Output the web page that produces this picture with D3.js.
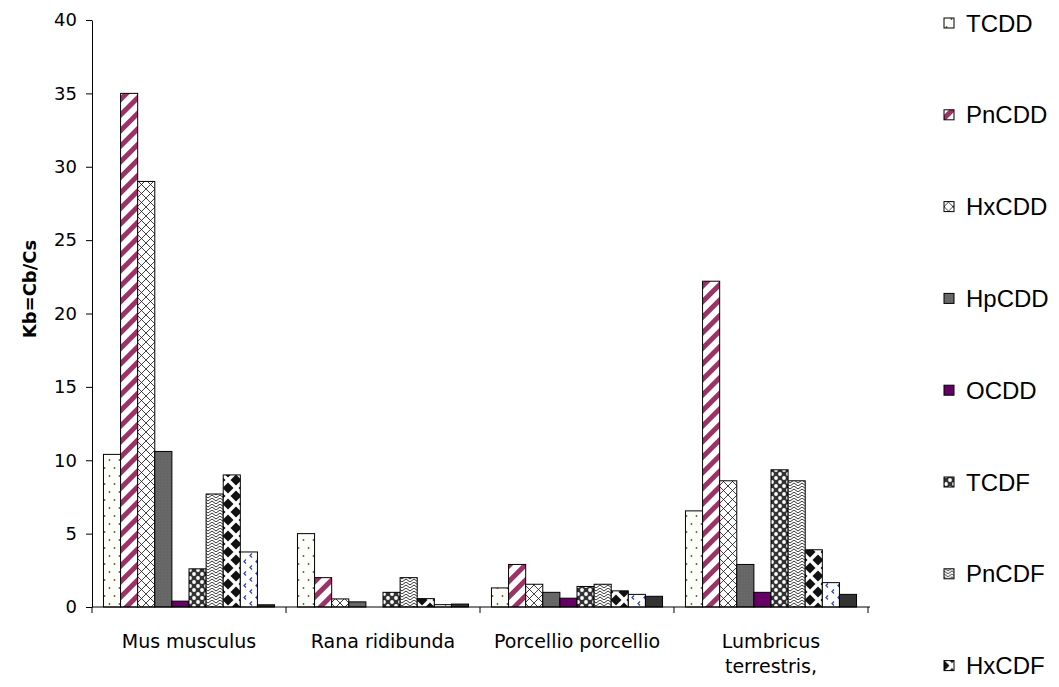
<!DOCTYPE html>
<html>
<head>
<meta charset="utf-8">
<script src="https://cdn.jsdelivr.net/npm/d3@7"></script>
<style>
  html, body { margin: 0; padding: 0; background: #fff; }
  svg { display: block; }
</style>
</head>
<body>
<svg id="chart" width="1059" height="687"></svg>
<script>
// ---------- DATA ----------
const categories = ["Mus musculus", "Rana ridibunda", "Porcellio porcellio", "Lumbricus terrestris,"];
const seriesNames = ["TCDD", "PnCDD", "HxCDD", "HpCDD", "OCDD", "TCDF", "PnCDF", "HxCDF", "HpCDF", "OCDF"];
const musMusculus      = [10.4, 35.0, 29.0, 10.6, 0.4, 2.6, 7.7, 9.0, 3.75, 0.15];
const ranaRidibunda    = [5.0, 2.0, 0.55, 0.35, 0.0, 1.0, 2.0, 0.57, 0.16, 0.2];
const porcellio        = [1.3, 2.9, 1.55, 1.0, 0.6, 1.4, 1.55, 1.1, 0.86, 0.73];
const lumbricus        = [6.55, 22.2, 8.6, 2.9, 1.0, 9.35, 8.6, 3.9, 1.66, 0.86];
const yTicks = [0, 5, 10, 15, 20, 25, 30, 35, 40];
const yTitle = "Kb=Cb/Cs";

const valuesByCategory = [musMusculus, ranaRidibunda, porcellio, lumbricus];

// ---------- SETUP ----------
const W = 1059, H = 687;
const svg = d3.select("#chart");
const defs = svg.append("defs");

function pat(id, w, h, bg, extra) {
  const p = defs.append("pattern").attr("id", id)
    .attr("patternUnits", "userSpaceOnUse").attr("width", w).attr("height", h);
  p.append("rect").attr("width", w).attr("height", h).attr("fill", bg);
  if (extra) extra(p);
  return p;
}
// TCDD: white with sparse olive dots
pat("p0", 10, 16, "#fcfcf8", p => {
  p.append("circle").attr("cx", 2.5).attr("cy", 4).attr("r", 0.9).attr("fill", "#5e5e30");
  p.append("circle").attr("cx", 7.5).attr("cy", 12).attr("r", 0.9).attr("fill", "#5e5e30");
});
// PnCDD: plum diagonal stripes
pat("p1", 11, 11, "#ffffff", p => {
  p.append("rect").attr("x", 0).attr("y", 0).attr("width", 5).attr("height", 11).attr("fill", "#9c3366");
}).attr("patternTransform", "rotate(45)");
// HxCDD: crosshatch
pat("p2", 9, 9, "#ffffff", p => {
  p.append("path").attr("d", "M0,0L9,9M9,0L0,9").attr("stroke", "#111").attr("stroke-width", 0.8);
});
// HpCDD: gray
pat("p3", 3, 3, "#666666", p => {
  p.append("rect").attr("x", 1).attr("y", 1).attr("width", 1).attr("height", 1).attr("fill", "#6e6e6e");
});
// OCDD: purple
pat("p4", 4, 4, "#660066");
// TCDF: dark with white circles
pat("p5", 8, 8, "#333333", p => {
  p.append("circle").attr("cx", 2).attr("cy", 2).attr("r", 1.9).attr("fill", "#fff");
  p.append("circle").attr("cx", 6).attr("cy", 6).attr("r", 1.9).attr("fill", "#fff");
});
// PnCDF: zigzag
pat("p6", 8, 6, "#ffffff", p => {
  p.append("path").attr("d", "M0,0L4,3L8,0M0,3L4,6L8,3").attr("stroke", "#333").attr("stroke-width", 1).attr("fill", "none");
});
// HxCDF: black diamonds lattice
pat("p7", 16, 16, "#ffffff", p => {
  const a = 5.5;
  [[0,0],[16,0],[0,16],[16,16],[8,8]].forEach(([cx, cy]) => {
    p.append("path").attr("d", `M${cx - a},${cy}L${cx},${cy - a}L${cx + a},${cy}L${cx},${cy + a}Z`).attr("fill", "#111");
  });
});
// HpCDF: white with small blue marks
pat("p8", 12, 12, "#ffffff", p => {
  p.append("path").attr("d", "M4,1.5L2,3.5L4,5.5").attr("stroke", "#3344bb").attr("stroke-width", 1.3).attr("fill", "none");
  p.append("path").attr("d", "M10,7.5L8,9.5L10,11.5").attr("stroke", "#3344bb").attr("stroke-width", 1.3).attr("fill", "none");
});
// OCDF: dark
pat("p9", 4, 4, "#333333");

const fills = seriesNames.map((s, i) => `url(#p${i})`);

const x0 = d3.scaleBand().domain(categories).range([92, 868]).padding(0);
const x1 = d3.scaleBand().domain(seriesNames).range([0, x0.bandwidth()]).paddingInner(0).paddingOuter(0.67);
const y = d3.scaleLinear().domain([0, 40]).range([607, 20]);

// ---------- BARS ----------
const groups = svg.append("g").selectAll("g").data(categories).join("g")
  .attr("transform", d => `translate(${x0(d)},0)`);
groups.selectAll("rect")
  .data((c, ci) => seriesNames.map((s, si) => ({ s, si, v: valuesByCategory[ci][si] })))
  .join("rect")
  .filter(d => d.v > 0)
  .attr("x", d => x1(d.s))
  .attr("y", d => y(d.v))
  .attr("width", x1.bandwidth())
  .attr("height", d => y(0) - y(d.v))
  .attr("fill", d => fills[d.si])
  .attr("stroke", "#000")
  .attr("stroke-width", 1);

// ---------- AXES ----------
const yAxis = svg.append("g").attr("transform", "translate(92,0)")
  .call(d3.axisLeft(y).tickValues(yTicks).tickSize(6).tickSizeOuter(0).tickPadding(9));
yAxis.select(".domain").attr("stroke", "#000");
yAxis.selectAll(".tick line").attr("stroke", "#000");
yAxis.selectAll("text").attr("font-family", "DejaVu Sans, Verdana, sans-serif")
  .attr("font-size", 18).attr("fill", "#000");

// x axis line and boundary ticks
const xAxis = svg.append("g").attr("transform", `translate(0,${y(0)})`)
  .call(d3.axisBottom(x0).tickSize(0));
xAxis.select(".domain").attr("d", `M${x0.range()[0]},0H${x0.range()[1] + 2}`).attr("stroke", "#000");
xAxis.selectAll(".tick text").remove();
const bounds = categories.map(c => x0(c)).concat([x0.range()[1]]);
xAxis.selectAll("line.bound").data(bounds).join("line").attr("class", "bound")
  .attr("x1", d => d).attr("x2", d => d).attr("y1", 0).attr("y2", 6).attr("stroke", "#000");

// category labels (wrapped)
const catLabel = svg.append("g");
categories.forEach(c => {
  const lines = c === "Lumbricus terrestris," ? ["Lumbricus", "terrestris,"] : [c];
  const cx = x0(c) + x0.bandwidth() / 2;
  const t = catLabel.append("text")
    .attr("x", cx)
    .attr("y", 648)
    .attr("text-anchor", "middle")
    .attr("font-family", "DejaVu Sans, Verdana, sans-serif")
    .attr("font-size", 19).attr("fill", "#000");
  lines.forEach((l, i) => t.append("tspan").attr("x", cx).attr("dy", i === 0 ? 0 : 25).text(l));
});

// y title
svg.append("text")
  .attr("transform", "translate(36,289) rotate(-90)")
  .attr("text-anchor", "middle")
  .attr("font-family", "DejaVu Sans, Verdana, sans-serif")
  .attr("font-weight", "bold")
  .attr("font-size", 18)
  .text(yTitle);

// ---------- LEGEND (only entries that fit in the frame, as in the reference) ----------
const legendStep = 91.8, legendTop = 23;
const legendItems = seriesNames.map((s, i) => ({ s, i })).filter(d => legendTop + d.i * legendStep + 12 < H);
const legend = svg.append("g").selectAll("g").data(legendItems).join("g")
  .attr("transform", d => `translate(944,${legendTop + d.i * legendStep})`);
legend.append("rect").attr("x", 0).attr("y", -5).attr("width", 10).attr("height", 10)
  .attr("fill", d => fills[d.i]).attr("stroke", "#000").attr("stroke-width", 1);
legend.append("text").attr("x", 22).attr("y", 0).attr("dy", "0.36em")
  .attr("font-family", "Liberation Sans, Arial, sans-serif")
  .attr("font-size", 24).attr("fill", "#000")
  .text(d => d.s);
</script>
</body>
</html>
